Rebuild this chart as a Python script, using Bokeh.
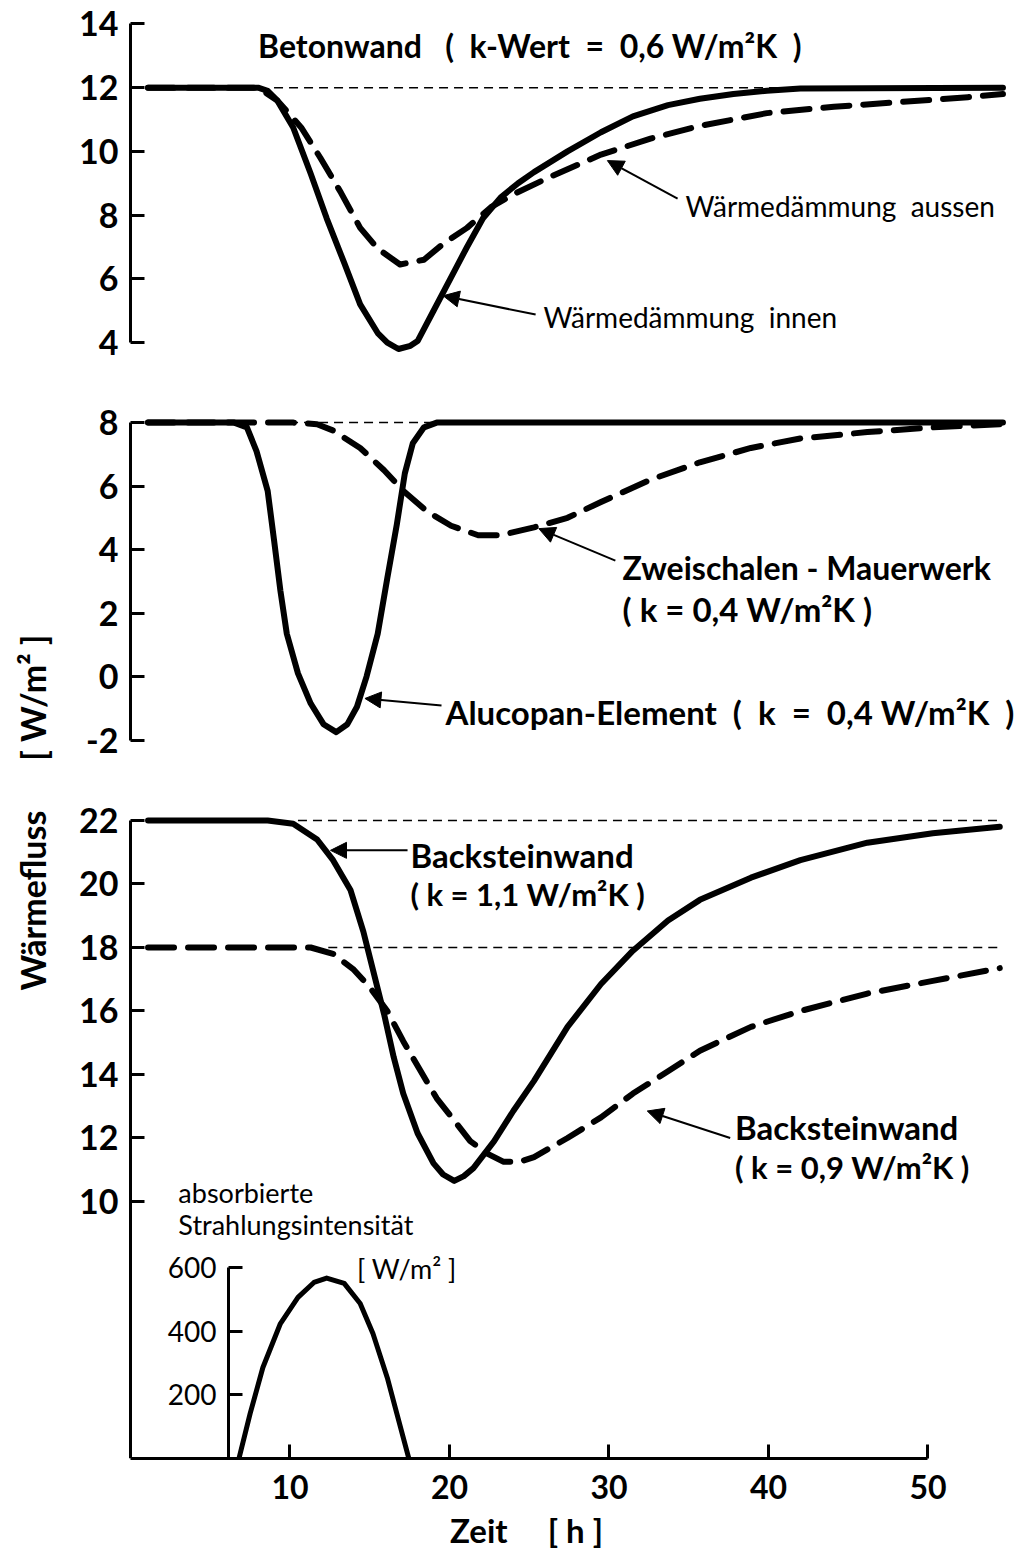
from bokeh.plotting import figure
from bokeh.models import Range1d, LinearAxis, FixedTicker, Label, Arrow, NormalHead
from bokeh.embed import file_html
from bokeh.resources import INLINE

# ---------------- data ----------------
# Panel 1: Betonwand (k-Wert = 0,6 W/m2K)
beton_innen_t = [1.1, 8.0, 8.6, 9.2, 10.2, 11.3, 12.3, 13.4, 14.4, 15.5, 16.1, 16.8, 17.55, 18.0,
                 19.0, 20.1, 21.1, 22.1, 23.2, 24.3, 25.3, 27.4, 29.5, 31.5, 33.7, 35.7, 37.8,
                 39.9, 42.0, 54.7]
beton_innen_q = [12, 12, 11.9, 11.6, 10.75, 9.3, 7.9, 6.5, 5.2, 4.3, 4.0, 3.8, 3.9, 4.05,
                 5.0, 6.05, 7.0, 7.9, 8.55, 9.0, 9.35, 10.0, 10.6, 11.1, 11.45, 11.65, 11.8,
                 11.9, 11.97, 12.0]
beton_aussen_t = [1.1, 8.0, 9.2, 10.7, 11.9, 13.2, 14.4, 15.5, 16.9, 18.4, 19.6, 21.1, 22.6,
                  24.0, 26.3, 29.5, 32.6, 35.7, 39.9, 44.1, 48.3, 52.5, 54.7]
beton_aussen_q = [12, 12, 11.6, 10.75, 9.8, 8.7, 7.6, 6.95, 6.45, 6.6, 7.1, 7.6, 8.25,
                  8.65, 9.2, 9.9, 10.4, 10.8, 11.2, 11.4, 11.55, 11.7, 11.8]

# Panel 2: Alucopan-Element / Zweischalen-Mauerwerk
alucopan_t = [1.1, 6.5, 7.3, 7.9, 8.6, 9.0, 9.4, 9.8, 10.5, 11.3, 12.1, 12.9, 13.6, 14.2,
              14.8, 15.5, 16.1, 16.7, 17.2, 17.7, 18.4, 19.2, 54.7]
alucopan_q = [8, 8, 7.85, 7.1, 5.85, 4.3, 2.7, 1.35, 0.1, -0.85, -1.5, -1.75, -1.5, -0.95,
              0.0, 1.35, 3.1, 4.8, 6.4, 7.35, 7.85, 8.0, 8.0]
zweischalen_t = [1.1, 10.2, 11.7, 12.7, 14.4, 15.9, 17.1, 18.6, 20.1, 21.8, 23.2, 25.3, 27.4,
                 29.5, 32.6, 35.7, 38.9, 42.0, 46.2, 50.3, 54.5]
zweischalen_q = [8, 8, 7.95, 7.75, 7.2, 6.5, 5.85, 5.2, 4.75, 4.45, 4.45, 4.7, 5.0,
                 5.5, 6.2, 6.75, 7.2, 7.5, 7.7, 7.85, 7.95]

# Panel 3: Backsteinwand k=1,1 (solid) and k=0,9 (dashed)
back11_t = [1.1, 8.6, 10.2, 11.7, 12.7, 13.8, 14.6, 15.2, 15.9, 16.5, 17.1, 18.0, 19.0, 19.6,
            20.3, 20.9, 21.5, 22.8, 24.0, 25.3, 27.4, 29.5, 31.5, 33.7, 35.7, 38.9, 42.0,
            46.2, 50.3, 54.5]
back11_q = [22, 22, 21.9, 21.4, 20.75, 19.8, 18.5, 17.3, 15.9, 14.55, 13.4, 12.15, 11.2, 10.85,
            10.65, 10.8, 11.05, 11.9, 12.85, 13.8, 15.5, 16.85, 17.9, 18.85, 19.5, 20.2, 20.75,
            21.3, 21.6, 21.8]
back09_t = [1.1, 11.3, 12.7, 14.0, 15.0, 16.1, 17.1, 18.2, 19.2, 20.3, 21.3, 22.4, 23.4, 24.4,
            25.3, 27.4, 29.5, 31.5, 33.7, 35.7, 38.9, 42.0, 46.2, 50.3, 54.5]
back09_q = [18, 18, 17.8, 17.3, 16.75, 16.0, 15.05, 14.1, 13.25, 12.55, 11.9, 11.5, 11.25, 11.25,
            11.4, 12.0, 12.65, 13.4, 14.1, 14.75, 15.5, 16.0, 16.55, 16.95, 17.35]

# Panel 4: absorbierte Strahlungsintensitaet [W/m2]
strahlung_t = [6.8, 7.5, 8.3, 9.4, 10.5, 11.5, 12.3, 13.4, 14.4, 15.2, 16.1, 16.7, 17.45]
strahlung_q = [0, 141, 286, 424, 506, 553, 567, 550, 487, 393, 254, 141, 0]

# thin dashed reference levels: (level, start hour, end hour)
ref_beton = [(12, 9.0, 54.7)]
ref_leicht = [(8, 9.0, 54.7)]
ref_backstein = [(22, 10.5, 54.7), (18, 12.4, 54.7)]

ticks_beton = [4, 6, 8, 10, 12, 14]
ticks_leicht = [-2, 0, 2, 4, 6, 8]
ticks_backstein = [10, 12, 14, 16, 18, 20, 22]
ticks_strahlung = [200, 400, 600]
ticks_zeit = [10, 20, 30, 40, 50]

FONT = "Lato"
SP = "\u00a0"

# ---------------- figure ----------------
p = figure(width=1025, height=1560, output_backend="svg", toolbar_location=None,
           x_range=Range1d(-8.15, 55.8), y_range=Range1d(-31.01, 14.42),
           y_axis_location=None,
           min_border_left=0, min_border_right=5, min_border_top=10, min_border_bottom=102)
p.extra_y_ranges = {"leicht": Range1d(-24.63, 20.98),
                    "backstein": Range1d(1.906, 47.51),
                    "strahlung": Range1d(0, 4549)}
p.grid.visible = False
p.outline_line_color = None
p.background_fill_color = "white"
p.border_fill_color = "white"


def style_axis(ax, size, weight="bold"):
    ax.axis_line_width = 3
    ax.axis_line_color = "black"
    ax.major_tick_line_width = 3
    ax.major_tick_line_color = "black"
    ax.major_tick_in = 14
    ax.major_tick_out = 0
    ax.minor_tick_line_color = None
    ax.major_label_text_font = FONT
    ax.major_label_text_font_size = size
    ax.major_label_text_font_style = weight
    ax.major_label_text_color = "black"
    ax.major_label_standoff = 12


xa = p.xaxis[0]
xa.ticker = FixedTicker(ticks=ticks_zeit)
xa.bounds = (0, 50)
style_axis(xa, "32px")
xa.major_label_standoff = 16
xa.axis_label = SP * 4 + "Zeit" + SP * 5 + "[" + SP + "h" + SP + "]"
xa.axis_label_text_font = FONT
xa.axis_label_text_font_size = "33px"
xa.axis_label_text_font_style = "bold"
xa.axis_label_text_color = "black"
xa.axis_label_standoff = 8


def add_yaxis(rng, ticks, bounds, loc, size, weight="bold"):
    ax = LinearAxis(y_range_name=rng, ticker=FixedTicker(ticks=ticks), bounds=bounds,
                    fixed_location=loc)
    ax.major_label_overrides = {t: str(t) for t in ticks}
    style_axis(ax, size, weight)
    p.add_layout(ax, "left")


add_yaxis("default", ticks_beton, (4, 14), 0, "34px")
add_yaxis("leicht", ticks_leicht, (-2, 8), 0, "34px")
add_yaxis("backstein", ticks_backstein, (1.906, 22), 0, "34px")
add_yaxis("strahlung", ticks_strahlung, (0, 600), 6.15, "28px", "normal")

# thin dashed reference lines
for rng, refs in (("default", ref_beton), ("leicht", ref_leicht), ("backstein", ref_backstein)):
    for lvl, t0, t1 in refs:
        p.line([t0, t1], [lvl, lvl], y_range_name=rng, line_color="black",
               line_width=1.5, line_dash="9 6")

solid = dict(line_color="black", line_width=6, line_cap="round", line_join="round")
dashed = dict(line_color="black", line_width=6, line_cap="round", line_join="round",
              line_dash="26 14")

p.line(beton_aussen_t, beton_aussen_q, **dashed)
p.line(beton_innen_t, beton_innen_q, **solid)
p.line(zweischalen_t, zweischalen_q, y_range_name="leicht", **dashed)
p.line(alucopan_t, alucopan_q, y_range_name="leicht", **solid)
p.line(back09_t, back09_q, y_range_name="backstein", **dashed)
p.line(back11_t, back11_q, y_range_name="backstein", **solid)
p.line(strahlung_t, strahlung_q, y_range_name="strahlung", line_color="black", line_width=5,
       line_cap="butt", line_join="round")


def label(x, y, text, rng="default", size="33px", align="left", angle=0, style="bold"):
    p.add_layout(Label(x=x, y=y, y_range_name=rng, text=text, text_font=FONT,
                       text_font_size=size, text_font_style=style, text_color="black",
                       text_baseline="middle", text_align=align, angle=angle))


def arrow(x0, y0, x1, y1, rng="default"):
    p.add_layout(Arrow(x_start=x0, y_start=y0, x_end=x1, y_end=y1, y_range_name=rng,
                       line_width=2, line_color="black",
                       end=NormalHead(size=16, fill_color="black", line_color="black",
                                      line_width=1)))


def wide(*parts):
    return (SP * 2).join(parts)


label(8.0, 13.32, "Betonwand" + SP * 3 + wide("(", "k-Wert", "=", "0,6" + SP + "W/m²K", ")"),
      size="32px")
label(34.8, 8.3, "Wärmedämmung" + SP * 2 + "aussen", size="28px", style="normal")
arrow(34.3, 8.52, 29.9, 9.71)
label(25.9, 4.8, "Wärmedämmung" + SP * 2 + "innen", size="28px", style="normal")
arrow(25.4, 4.88, 19.6, 5.47)

label(30.85, 3.43, "Zweischalen - Mauerwerk", rng="leicht", size="32px")
label(30.85, 2.14, "( k = 0,4 W/m²K )", rng="leicht")
arrow(30.4, 3.65, 25.6, 4.66, rng="leicht")
label(19.75, -1.13, "Alucopan-Element" + SP * 2 + wide("(", "k", "=", "0,4" + SP + "W/m²K", ")"),
      rng="leicht")
arrow(19.5, -0.91, 14.7, -0.69, rng="leicht")

label(17.55, 20.9, "Backsteinwand", rng="backstein")
label(17.55, 19.7, "( k = 1,1 W/m²K )", rng="backstein", size="31px")
arrow(17.37, 21.06, 12.54, 21.06, rng="backstein")
label(37.9, 12.36, "Backsteinwand", rng="backstein")
label(37.9, 11.1, "( k = 0,9 W/m²K )", rng="backstein", size="31px")
arrow(37.6, 12.0, 32.4, 12.85, rng="backstein")

label(3.0, 836, "absorbierte", rng="strahlung", size="27px", style="normal")
label(3.0, 735, "Strahlungsintensität", rng="strahlung", size="27px", style="normal")
label(14.2, 597, "[ W/m² ]", rng="strahlung", size="27px", style="normal")

label(-6.14, 19.48, "Wärmefluss", rng="backstein", size="34px", align="center", angle=1.5708)
label(-6.14, -0.66, "[ W/m² ]", rng="leicht", size="34px", align="center", angle=1.5708)

open("out.html", "w").write(file_html(p, INLINE))
